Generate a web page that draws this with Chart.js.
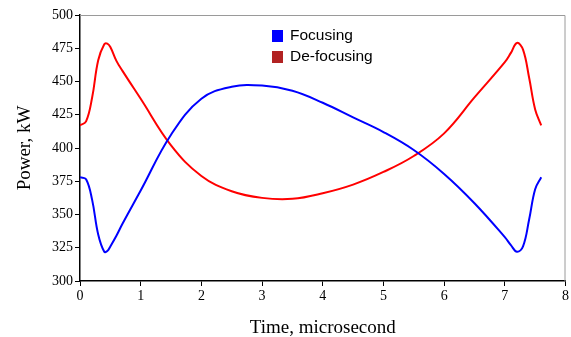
<!DOCTYPE html>
<html>
<head>
<meta charset="utf-8">
<script src="https://cdn.jsdelivr.net/npm/chart.js@4.4.1/dist/chart.umd.min.js"></script>
<style>
    html, body { margin: 0; padding: 0; background: #fff; }
    #wrap { width: 571px; height: 337px; }
</style>
</head>
<body>
<div id="wrap"><canvas id="power-chart" width="571" height="337"></canvas></div>
<script>
// Time, microsecond
const times = [0, 0.1, 0.2, 0.3, 0.4, 0.45, 0.5, 0.6, 0.7, 1.0, 1.5, 2.0, 2.5, 3.0, 3.5, 4.0, 4.5, 5.0, 5.5, 6.0, 6.5, 7.0, 7.1, 7.2, 7.3, 7.4, 7.5, 7.6];

// Power, kW
const focusing = [378, 376.5, 361, 335, 322, 322.5, 326, 334, 343, 368, 410, 437, 446, 447, 443, 434, 423, 412, 398.5, 380.5, 358.5, 333, 327, 322, 326, 346, 369, 378];
const defocusing = [417, 420, 438, 466, 478, 478.5, 476, 465.5, 458, 437, 402, 379, 367.5, 362.5, 361.8, 366, 372.5, 382, 394, 411, 438, 464.5, 471.5, 479, 474, 453, 429, 417];

const seriesLabels = ['Focusing', 'De-focusing'];
const lineColors = ['#0000ff', '#ff0000'];
const legendColors = ['#0000ff', '#b22222'];

const xTicks = [0, 1, 2, 3, 4, 5, 6, 7, 8];
const yTicks = [300, 325, 350, 375, 400, 425, 450, 475, 500];

const toPoints = (values) => values.map((v, i) => ({ x: times[i], y: v }));

// Gray frame on the top and right of the plot
const framePlugin = {
    id: 'frame',
    beforeDatasetsDraw(chart) {
        const { ctx, chartArea: a } = chart;
        ctx.save();
        ctx.strokeStyle = '#9a9a9a';
        ctx.lineWidth = 1;
        ctx.beginPath();
        ctx.moveTo(a.left, a.top + 0.5);
        ctx.lineTo(a.right - 0.5, a.top + 0.5);
        ctx.lineTo(a.right - 0.5, a.bottom);
        ctx.stroke();
        ctx.restore();
    }
};

// Legend inside the plot
const legendPlugin = {
    id: 'innerLegend',
    afterDraw(chart) {
        const { ctx } = chart;
        ctx.save();
        ctx.font = '15.5px "Liberation Sans", Arial, sans-serif';
        ctx.textBaseline = 'middle';
        seriesLabels.forEach((label, i) => {
            const y = 36 + i * 21;
            ctx.fillStyle = legendColors[i];
            ctx.fillRect(272, y - 6, 11, 12);
            ctx.fillStyle = '#000';
            ctx.fillText(label, 290, y);
        });
        ctx.restore();
    }
};

const serifTick = { family: '"Liberation Serif", "Times New Roman", serif', size: 14 };
const serifTitle = { family: '"Liberation Serif", "Times New Roman", serif', size: 19 };

new Chart(document.getElementById('power-chart'), {
    type: 'scatter',
    data: {
        datasets: [focusing, defocusing].map((values, i) => ({
            label: seriesLabels[i],
            data: toPoints(values),
            showLine: true,
            borderColor: lineColors[i],
            backgroundColor: lineColors[i],
            borderWidth: 2,
            pointRadius: 0,
            tension: 0.4,
        }))
    },
    options: {
        responsive: false,
        animation: false,
        devicePixelRatio: 1,
        layout: { padding: { left: 0, top: 15, right: 5, bottom: 0 } },
        plugins: {
            legend: { display: false },
            tooltip: { enabled: false },
        },
        scales: {
            x: {
                type: 'linear',
                min: 0,
                max: 8,
                afterBuildTicks: (scale) => { scale.ticks = xTicks.map(v => ({ value: v })); },
                afterFit: (scale) => { scale.height = 56; },
                ticks: { color: '#000', font: serifTick, padding: 2 },
                grid: { drawOnChartArea: false, color: '#000', tickLength: 5 },
                border: { color: '#000', width: 1.5 },
                title: { display: true, text: 'Time, microsecond', color: '#000', font: serifTitle, padding: { top: 0, bottom: -2 } },
            },
            y: {
                min: 300,
                max: 500,
                afterBuildTicks: (scale) => { scale.ticks = yTicks.map(v => ({ value: v })); },
                afterFit: (scale) => { scale.width = 80; },
                ticks: { color: '#000', font: serifTick, padding: 2 },
                grid: { drawOnChartArea: false, color: '#000', tickLength: 5 },
                border: { color: '#000', width: 1.5 },
                title: { display: true, text: 'Power, kW', color: '#000', font: serifTitle, padding: { top: 14, bottom: 0 } },
            }
        }
    },
    plugins: [framePlugin, legendPlugin]
});
</script>
</body>
</html>
